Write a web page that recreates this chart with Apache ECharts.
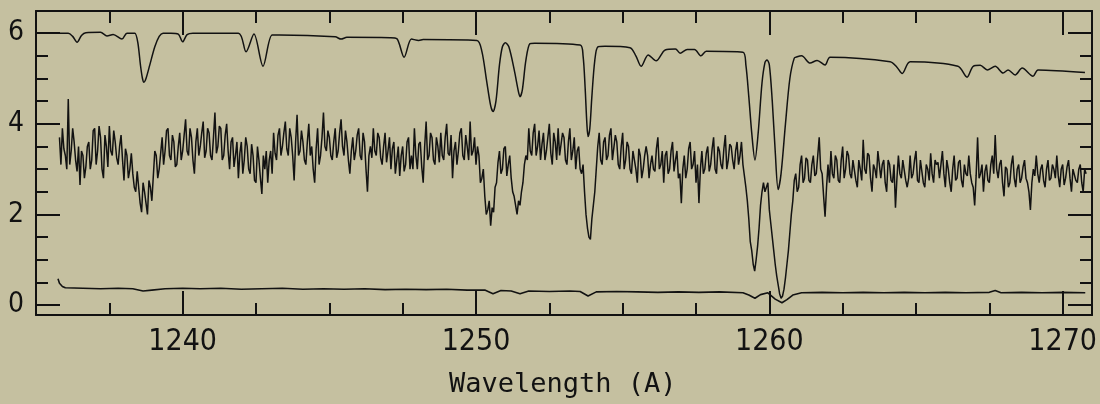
<!DOCTYPE html>
<html>
<head>
<meta charset="utf-8">
<script src="https://cdn.jsdelivr.net/npm/echarts@6/dist/echarts.min.js"></script>
<style>
  html, body { margin: 0; padding: 0; background: #c5c0a0; }
  #main { width: 1100px; height: 404px; }
</style>
</head>
<body>
<div id="main"></div>
<script>
// tick positions
var xMajorTicks = [1240, 1250, 1260, 1270];
var xMinorTicks = [1237.5, 1242.5, 1245, 1247.5, 1252.5, 1255, 1257.5, 1262.5, 1265, 1267.5];
var yMajorTicks = [0, 2, 4, 6];
var yMinorTicks = [0.5, 1, 1.5, 2.5, 3, 3.5, 4.5, 5, 5.5];

// smooth model spectrum (offset, top curve)
var modelWave = [1235.1, 1236.1, 1236.25, 1236.4, 1236.55, 1236.7, 1237.2, 1237.42, 1237.63, 1237.93, 1238.1, 1238.3,
  1238.37, 1238.47, 1238.56, 1238.63, 1238.68, 1238.75, 1238.88, 1239.05, 1239.2, 1239.33, 1239.6, 1239.85, 1240.0,
  1240.15, 1240.35, 1241.9, 1242.16, 1242.43, 1242.74, 1243.05, 1243.3, 1245.2, 1245.4, 1245.6, 1247.07, 1247.3,
  1247.55, 1247.8, 1248.05, 1248.2, 1250.03, 1250.2, 1250.35, 1250.5, 1250.58, 1250.68, 1250.8, 1250.9, 1251.0,
  1251.12, 1251.3, 1251.45, 1251.5, 1251.58, 1251.7, 1251.84, 1252.0, 1253.55, 1253.65, 1253.72, 1253.78, 1253.82,
  1253.88, 1253.95, 1254.05, 1254.16, 1254.4, 1255.25, 1255.45, 1255.63, 1255.87, 1256.14, 1256.45, 1256.8, 1256.96,
  1257.2, 1257.45, 1257.67, 1257.85, 1259.1, 1259.2, 1259.3, 1259.4, 1259.51, 1259.62, 1259.75, 1259.85, 1259.92,
  1260.0, 1260.1, 1260.2, 1260.3, 1260.4, 1260.55, 1260.7, 1260.85, 1260.95, 1261.1, 1261.39, 1261.63, 1261.9,
  1262.07, 1264.12, 1264.35, 1264.53, 1264.8, 1266.43, 1266.74, 1266.95, 1267.19, 1267.43, 1267.7, 1267.97, 1268.14,
  1268.38, 1268.62, 1268.99, 1269.16, 1270.76];
var modelFlux = [6.0, 6.0, 5.93, 5.8, 5.95, 6.01, 6.02, 5.94, 5.97, 5.87, 6.0, 6.0,
  6.0, 5.8, 5.3, 5.0, 4.92, 5.0, 5.3, 5.7, 5.93, 6.0, 6.0, 5.98, 5.81,
  5.97, 6.0, 6.0, 5.59, 5.98, 5.27, 5.96, 5.96, 5.92, 5.87, 5.91, 5.9, 5.88,
  5.47, 5.87, 5.84, 5.86, 5.84, 5.6, 5.0, 4.4, 4.27, 4.5, 5.3, 5.7, 5.79,
  5.7, 5.2, 4.7, 4.6, 4.75, 5.4, 5.77, 5.78, 5.74, 5.5, 4.8, 4.0, 3.72,
  3.9, 4.6, 5.4, 5.7, 5.71, 5.68, 5.5, 5.27, 5.52, 5.39, 5.63, 5.65, 5.56,
  5.64, 5.64, 5.5, 5.6, 5.58, 5.3, 4.6, 3.8, 3.2, 3.8, 4.9, 5.35, 5.41,
  5.3, 4.5, 3.4, 2.55, 2.9, 4.0, 5.0, 5.45, 5.48, 5.5, 5.34, 5.4, 5.3,
  5.47, 5.37, 5.25, 5.11, 5.37, 5.27, 5.03, 5.27, 5.29, 5.19, 5.27, 5.12, 5.19,
  5.08, 5.23, 5.05, 5.19, 5.13];

// observed spectrum: A samples every 0.1 A from 1235.8, B samples halfway between them
var observedStart = 1235.8;
var observedStep = 0.1;
var observedFluxA = [
  3.7, 3.9, 3.3, 4.55, 3.4, 3.6, 2.95, 2.65, 3.3, 3.05,
  3.6, 3.2, 3.9, 3.4, 3.7, 2.8, 3.5, 3.95, 3.3, 3.6,
  3.1, 3.75, 2.75, 3.3, 3.0, 2.9, 2.5, 2.6, 2.05, 2.5,
  2.0, 2.6, 2.85, 3.3, 3.0, 3.7, 3.4, 3.9, 3.2, 3.6,
  3.1, 3.8, 3.4, 4.1, 3.3, 3.7, 2.9, 3.9, 3.5, 4.05,
  3.4, 3.8, 3.2, 4.25, 3.5, 3.9, 3.3, 4.0, 3.0, 3.7,
  3.3, 2.8, 3.6, 3.2, 3.5, 2.9, 3.3, 2.7, 3.2, 2.45,
  3.0, 2.7, 3.4, 3.8, 3.2, 3.9, 3.5, 4.05, 3.3, 3.7,
  2.75, 4.2, 3.4, 3.6, 3.1, 4.0, 3.5, 2.7, 3.9, 3.3,
  4.25, 3.4, 3.7, 3.2, 3.9, 3.4, 4.1, 3.3, 3.6, 2.9,
  3.7, 3.4, 3.9, 3.2, 3.6, 2.5, 3.5, 3.9, 3.3, 3.7,
  3.1, 3.8, 3.4, 3.0, 3.6, 3.2, 2.85, 3.5, 3.1, 3.7,
  3.3, 3.9, 3.0, 3.6, 2.7, 4.05, 3.3, 3.7, 3.1, 3.5,
  3.8, 3.2, 4.0, 3.3, 2.8, 3.6, 3.4, 3.9, 3.2, 3.5,
  4.05, 3.4, 3.1, 3.3, 2.8, 2.4, 2.1, 1.75, 2.05, 2.7,
  3.4, 3.0, 3.5, 3.1, 2.8, 2.4, 2.0, 2.2, 2.7, 3.3,
  3.9, 3.3, 4.0, 3.5, 3.2, 3.8, 3.4, 4.0, 3.1, 3.6,
  3.9, 3.3, 3.7, 3.1, 3.9, 3.4, 3.0, 3.5, 2.9, 2.5,
  1.7, 1.45, 2.2, 3.0, 3.8, 3.1, 3.7, 3.3, 3.9, 3.2,
  3.6, 3.0, 3.8, 3.2, 3.5, 2.9, 3.4, 2.7, 3.3, 3.0,
  3.5, 2.8, 3.3, 2.95, 3.7, 3.1, 2.7, 3.4, 3.0, 3.6,
  3.2, 2.8, 2.25, 3.3, 3.0, 3.6, 3.1, 2.7, 2.25, 3.4,
  3.0, 3.5, 3.1, 3.7, 2.9, 3.4, 3.0, 3.75, 3.2, 3.5,
  3.0, 3.6, 3.3, 3.1, 2.6, 1.9, 1.2, 0.75, 1.3, 2.2,
  2.7, 2.6, 2.1, 1.5, 0.9, 0.45, 0.15, 0.35, 0.9, 1.6,
  2.3, 2.9, 2.6, 3.3, 2.8, 3.2, 2.7, 3.3, 2.9, 3.7,
  2.9, 1.95, 3.1, 3.4, 2.8, 3.2, 2.7, 3.5, 3.0, 3.3,
  2.8, 3.2, 2.6, 3.0, 3.65, 2.9, 3.3, 2.5, 3.0, 3.4,
  2.8, 3.2, 2.5, 3.1, 2.7, 2.15, 3.3, 2.8, 3.2, 2.6,
  3.3, 2.9, 3.4, 2.7, 3.2, 2.6, 3.0, 3.35, 2.7, 3.1,
  2.8, 3.4, 2.6, 3.0, 2.5, 3.3, 2.8, 3.2, 2.6, 2.9,
  3.3, 2.7, 2.2, 3.7, 2.9, 2.5, 3.1, 2.7, 3.3, 3.75,
  2.8, 3.2, 2.4, 3.0, 2.7, 3.3, 2.6, 3.1, 2.8, 3.2,
  2.7, 2.1, 3.0, 3.3, 2.7, 3.1, 2.6, 3.2, 2.8, 3.0,
  3.3, 2.6, 3.1, 2.8, 3.2, 2.5, 3.0, 2.7, 3.1, 2.5, 2.9
];
var observedFluxB = [
  3.1, 3.45, 3.0, 3.1, 3.9, 3.2, 3.5, 3.4, 2.8, 3.5,
  3.0, 3.85, 3.1, 3.95, 3.0, 3.75, 3.05, 3.4, 3.85, 3.25,
  3.5, 3.2, 3.45, 2.8, 3.35, 2.6, 2.95, 2.25, 2.7, 2.25,
  2.75, 2.3, 3.4, 2.8, 3.35, 3.1, 3.85, 3.3, 3.75, 3.05,
  3.5, 3.2, 3.75, 3.4, 3.9, 3.2, 3.6, 3.3, 3.8, 3.25,
  3.9, 3.3, 3.7, 3.35, 3.95, 3.2, 3.75, 3.4, 3.6, 3.05,
  3.6, 3.35, 2.9, 3.7, 3.0, 3.55, 2.75, 3.5, 2.8, 3.3,
  3.4, 3.2, 2.9, 3.35, 3.75, 3.3, 3.8, 3.45, 3.9, 3.3,
  3.6, 3.3, 3.85, 3.2, 3.6, 3.3, 3.0, 3.45, 3.1, 3.7,
  3.5, 3.85, 3.3, 3.6, 3.25, 3.8, 3.5, 3.85, 3.2, 3.4,
  3.2, 3.75, 3.3, 3.8, 3.0, 3.3, 3.25, 3.4, 3.8, 3.25,
  3.5, 3.15, 3.7, 3.45, 2.9, 3.5, 3.3, 2.95, 3.6, 3.0,
  3.0, 3.3, 3.55, 3.05, 3.5, 3.2, 3.8, 3.2, 3.7, 3.15,
  3.3, 3.7, 3.35, 3.75, 3.4, 3.1, 3.8, 3.3, 3.75, 3.2,
  3.3, 3.7, 3.5, 2.7, 3.0, 2.0, 2.3, 2.15, 2.6, 3.15,
  2.9, 3.45, 2.85, 3.3, 2.5, 2.2, 2.3, 2.5, 3.1, 3.2,
  3.4, 3.8, 3.3, 3.85, 3.55, 3.2, 3.7, 3.35, 3.8, 3.2,
  3.3, 3.8, 3.2, 3.6, 3.2, 3.7, 3.4, 3.0, 3.1, 2.0,
  1.5, 1.9, 2.5, 3.5, 3.2, 3.6, 3.2, 3.75, 3.2, 3.75,
  3.1, 3.5, 3.0, 3.6, 3.0, 3.4, 3.0, 3.45, 2.8, 3.3,
  3.3, 3.1, 3.0, 3.45, 3.0, 3.4, 3.3, 2.9, 3.4, 2.95,
  3.4, 2.9, 3.0, 2.8, 3.45, 3.0, 3.4, 3.1, 3.0, 2.9,
  3.35, 2.95, 3.45, 3.0, 3.5, 3.1, 3.45, 3.0, 3.55, 3.2,
  3.4, 3.1, 3.6, 2.85, 2.3, 1.4, 0.9, 1.0, 1.7, 2.5,
  2.5, 2.7, 1.8, 1.2, 0.65, 0.25, 0.2, 0.6, 1.2, 2.0,
  2.75, 2.5, 3.1, 2.7, 3.25, 2.75, 3.1, 2.85, 3.3, 3.0,
  2.4, 2.6, 2.7, 2.9, 3.3, 2.75, 3.2, 2.8, 3.4, 2.9,
  3.2, 2.75, 3.2, 2.75, 3.0, 3.35, 2.8, 3.1, 2.8, 3.1,
  3.1, 2.7, 3.2, 2.75, 3.1, 2.8, 2.9, 3.2, 2.75, 2.8,
  2.8, 3.2, 2.75, 3.2, 2.7, 3.1, 2.75, 2.9, 3.2, 3.15,
  3.1, 2.9, 3.2, 2.7, 3.0, 2.75, 3.15, 2.75, 3.1, 2.85,
  2.9, 2.6, 2.85, 2.8, 3.1, 2.95, 2.75, 3.1, 2.9, 3.0,
  3.1, 2.7, 3.05, 2.6, 3.1, 2.8, 3.0, 2.7, 3.05, 2.8,
  2.5, 2.7, 2.85, 2.9, 3.0, 2.75, 3.0, 2.75, 3.1, 2.8,
  2.85, 3.0, 2.65, 3.05, 2.8, 3.0, 2.75, 3.0, 2.7, 3.0
];

// error spectrum (bottom curve)
var errorWave = [1235.75, 1235.8, 1235.9, 1236.0, 1236.6, 1237.2, 1237.8, 1238.3, 1238.65, 1238.95, 1239.4, 1240.0,
  1240.6, 1241.3, 1242.0, 1242.7, 1243.4, 1244.1, 1244.8, 1245.5, 1246.2, 1246.9, 1247.6, 1248.3, 1249.0, 1249.7,
  1250.3, 1250.58, 1250.85, 1251.2, 1251.5, 1251.8, 1252.5, 1253.2, 1253.55, 1253.82, 1254.1, 1254.8, 1255.5,
  1256.2, 1256.9, 1257.6, 1258.3, 1259.1, 1259.3, 1259.51, 1259.7, 1259.95, 1260.2, 1260.43, 1260.6, 1260.8,
  1261.1, 1261.8, 1262.5, 1263.2, 1263.9, 1264.6, 1265.3, 1266.0, 1266.7, 1267.5, 1267.7, 1267.9, 1268.6,
  1269.3, 1270.0, 1270.77];
var errorFlux = [0.58, 0.48, 0.41, 0.38, 0.37, 0.36, 0.37, 0.36, 0.31, 0.33, 0.36, 0.37,
  0.36, 0.37, 0.35, 0.36, 0.37, 0.35, 0.36, 0.35, 0.36, 0.34, 0.35, 0.34, 0.35, 0.33,
  0.33, 0.25, 0.32, 0.31, 0.25, 0.31, 0.3, 0.31, 0.3, 0.2, 0.29, 0.3, 0.29,
  0.28, 0.29, 0.28, 0.29, 0.27, 0.22, 0.15, 0.23, 0.27, 0.13, 0.05, 0.12, 0.22,
  0.27, 0.28, 0.27, 0.28, 0.27, 0.28, 0.27, 0.28, 0.27, 0.28, 0.32, 0.27, 0.28,
  0.27, 0.28, 0.27];

function pairs(xs, ys) {
  return xs.map(function (x, i) { return [x, ys[i]]; });
}
var observedData = [];
observedFluxA.forEach(function (v, i) {
  var w = observedStart + i * observedStep;
  observedData.push([Math.round(w * 100) / 100, v]);
  if (i < observedFluxB.length) {
    observedData.push([Math.round((w + observedStep / 2) * 100) / 100, observedFluxB[i]]);
  }
});

var ink = '#121212';
var X_MIN = 1235, X_MAX = 1271, Y_MIN = -0.22, Y_MAX = 6.49;
var numFont = '"Liberation Sans Narrow", "DejaVu Sans Condensed", sans-serif';

function xAxisDef(pos, ticks, len, labels) {
  return {
    type: 'value', position: pos, min: X_MIN, max: X_MAX,
    axisLine: { show: labels !== null, onZero: false, lineStyle: { color: ink, width: 2 } },
    axisTick: { inside: true, length: len, customValues: ticks, lineStyle: { color: ink, width: 2 } },
    axisLabel: labels ? {
      customValues: labels, margin: 12, color: ink, fontSize: 30, fontFamily: numFont,
      formatter: function (v) { return String(v); }
    } : { show: false },
    splitLine: { show: false }
  };
}
function yAxisDef(pos, ticks, len, labels) {
  return {
    type: 'value', position: pos, min: Y_MIN, max: Y_MAX,
    axisLine: { show: labels !== null, onZero: false, lineStyle: { color: ink, width: 2 } },
    axisTick: { inside: true, length: len, customValues: ticks, lineStyle: { color: ink, width: 2 } },
    axisLabel: labels ? { customValues: labels, margin: 12, color: ink, fontSize: 28, fontFamily: numFont }
                      : { show: false },
    splitLine: { show: false }
  };
}

var myChart = echarts.init(document.getElementById('main'));
myChart.setOption({
  backgroundColor: '#c5c0a0',
  animation: false,
  title: {
    text: 'Wavelength (A)',
    left: 444,
    top: 366,
    textStyle: { fontFamily: '"DejaVu Sans Mono", monospace', fontSize: 27, fontWeight: 'normal', color: ink }
  },
  grid: { left: 36, right: 8, top: 11, bottom: 89, outerBoundsMode: 'none' },
  xAxis: [
    xAxisDef('bottom', xMajorTicks, 24, xMajorTicks),
    xAxisDef('bottom', xMinorTicks, 12, null),
    xAxisDef('top', xMajorTicks, 24, false),
    xAxisDef('top', xMinorTicks, 12, null)
  ],
  yAxis: [
    yAxisDef('left', yMajorTicks, 24, yMajorTicks),
    yAxisDef('left', yMinorTicks, 12, null),
    yAxisDef('right', yMajorTicks, 24, false),
    yAxisDef('right', yMinorTicks, 12, null)
  ],
  series: [
    {
      type: 'line', name: 'model', data: pairs(modelWave, modelFlux),
      smooth: 0.3, showSymbol: false, lineStyle: { color: ink, width: 1.5 }
    },
    {
      type: 'line', name: 'observed', data: observedData,
      showSymbol: false, lineStyle: { color: ink, width: 1.5 }
    },
    {
      type: 'line', name: 'error', data: pairs(errorWave, errorFlux),
      showSymbol: false, lineStyle: { color: ink, width: 1.6 }
    }
  ]
});
</script>
</body>
</html>
